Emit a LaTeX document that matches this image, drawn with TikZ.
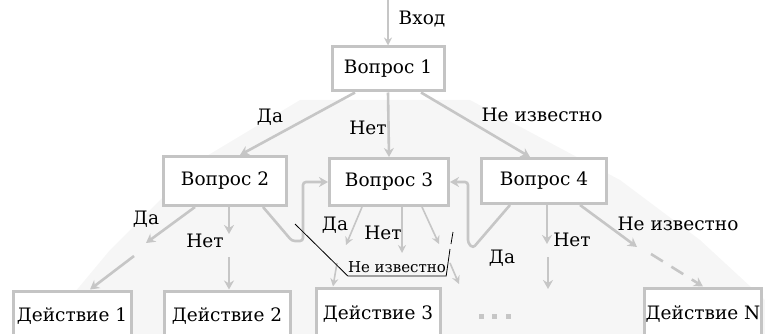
\documentclass[tikz,border=0pt]{standalone}
\usepackage{fontspec}
\setmainfont{DejaVu Serif}
\usetikzlibrary{arrows.meta,calc}
\definecolor{boxgray}{HTML}{C4C4C4}
\definecolor{linegray}{HTML}{C6C6C6}
\definecolor{bggray}{HTML}{F6F6F6}
\begin{document}
\begin{tikzpicture}[x=1pt,y=-1pt,
  qbox/.style={draw=boxgray, line width=3pt, fill=white, inner sep=0pt,
    font=\fontsize{18.5}{21}\selectfont},
  conn/.style={draw=linegray, line width=2.6pt, -{Stealth[length=9pt,width=10pt]}},
  thinconn/.style={draw=linegray, line width=1.6pt, -{Stealth[length=8pt,width=8pt]}},
  loopconn/.style={draw=linegray, line width=2.6pt, rounded corners=3pt, -{Stealth[length=9pt,width=10pt]}},
  dashconn/.style={conn, dash pattern=on 14pt off 10pt},
  lbl/.style={font=\fontsize{18.5}{21}\selectfont, inner sep=0pt},
  smalllbl/.style={font=\fontsize{15}{17}\selectfont, inner sep=0pt},
  note/.style={draw=black, line width=0.8pt},
  dotsq/.style={fill=linegray, minimum size=5pt, inner sep=0pt},
]
\clip (0,0) rectangle (765,334);
\useasboundingbox (0,0) rectangle (765,334);
% faint background
\fill[bggray] (300,100) -- (470,100) -- (620,180) -- (700,240) -- (765,300) -- (765,334)
  -- (40,334) -- (110,250) -- (200,160) -- cycle;

% boxes
\node[qbox, minimum width=112pt, minimum height=44pt] (q1) at (388,69) {Вопрос 1};
\node[qbox, minimum width=123pt, minimum height=49pt] (q2) at (225,181) {Вопрос 2};
\node[qbox, minimum width=119pt, minimum height=47pt] (q3) at (389,182) {Вопрос 3};
\node[qbox, minimum width=125pt, minimum height=45pt] (q4) at (544,181) {Вопрос 4};
\node[qbox, minimum width=118pt, minimum height=50pt] (a1) at (72,316) {Действие 1};
\node[qbox, minimum width=126pt, minimum height=50pt] (a2) at (227,316) {Действие 2};
\node[qbox, minimum width=124pt, minimum height=52pt] (a3) at (378,314) {Действие 3};
\node[qbox, minimum width=117pt, minimum height=52pt] (aN) at (703,314) {Действие N};

% input
\coordinate (in) at (388,0);
\draw[draw=linegray, line width=2pt, -{Stealth[length=8pt,width=8pt]}] (in) -- (q1.north);
\node[lbl] (tin) at (422,19) {Вход};

% from q1
\draw[conn] ([xshift=-33pt]q1.south) -- ([xshift=15pt]q2.north);
\draw[conn] (q1.south) -- (q3.north);
\draw[conn] ([xshift=33pt]q1.south) -- ([xshift=-14pt]q4.north);
\node[lbl] (l1a) at (270,117) {Да};
\node[lbl] (l1b) at (368,128) {Нет};
\node[lbl] (l1c) at (542,115) {Не известно};

% from q2
\coordinate (q2a) at (146,243);
\coordinate (q2a2) at (134,256);
\coordinate (q2b) at (229,234);
\coordinate (q2b2) at (229,257);
\draw[conn] ([xshift=-30pt]q2.south) -- (q2a);
\draw[conn] (q2a2) -- ([xshift=18pt]a1.north);
\draw[conn] ([xshift=4pt]q2.south) -- (q2b);
\draw[conn] (q2b2) -- ([xshift=2pt]a2.north);
\node[lbl] (l2a) at (146,219) {Да};
\node[lbl] (l2b) at (205,241) {Нет};
\draw[loopconn] ([xshift=38pt]q2.south) -- (292,241) -- (303,241) -- (303,182) -- (q3.west);

% from q3
\coordinate (q3a) at (346,245);
\coordinate (q3a2) at (337,263);
\coordinate (q3b) at (402,253);
\coordinate (q3c) at (439,244);
\coordinate (q3c2) at (450,263);
\coordinate (q3c3) at (459,284);
\draw[thinconn] ([xshift=-27pt]q3.south) -- (q3a);
\draw[thinconn] (q3a2) -- ([xshift=-45pt]a3.north);
\draw[thinconn] ([xshift=13pt]q3.south) -- (q3b);
\draw[thinconn] ([xshift=33pt]q3.south) -- (q3c);
\draw[thinconn] (q3c2) -- (q3c3);
\node[lbl] (l3a) at (335,225) {Да};
\node[lbl] (l3b) at (383,233) {Нет};
\node[smalllbl] (l3c) at (397,267) {Не известно};
% black annotation
\coordinate (n1) at (295,224);
\coordinate (n2) at (453,232);
\draw[note] (n1) -- (l3c.south west |- 0,276) -- (l3c.south east |- 0,276) -- (450,249);
\draw[note] (451,244) -- (n2);

% from q4
\draw[loopconn] ([xshift=-34pt]q4.south) -- (473,248) -- (468,243) -- (468,182) -- (q3.east);
\coordinate (q4b) at (547,244);
\coordinate (q4b2) at (548,257);
\coordinate (q4b3) at (548,289);
\coordinate (q4c) at (637,247);
\coordinate (q4c2) at (651,254);
\draw[conn] ([xshift=3pt]q4.south) -- (q4b);
\draw[conn] (q4b2) -- (q4b3);
\draw[conn] ([xshift=36pt]q4.south) -- (q4c);
\draw[dashconn] (q4c2) -- (aN.north);
\node[lbl] (l4a) at (502,258) {Да};
\node[lbl] (l4b) at (572,240) {Нет};
\node[lbl] (l4c) at (678,224) {Не известно};

% dots
\node[dotsq] (d1) at (481,316) {};
\node[dotsq] (d2) at (494,316) {};
\node[dotsq] (d3) at (508,316) {};
\end{tikzpicture}
\end{document}
